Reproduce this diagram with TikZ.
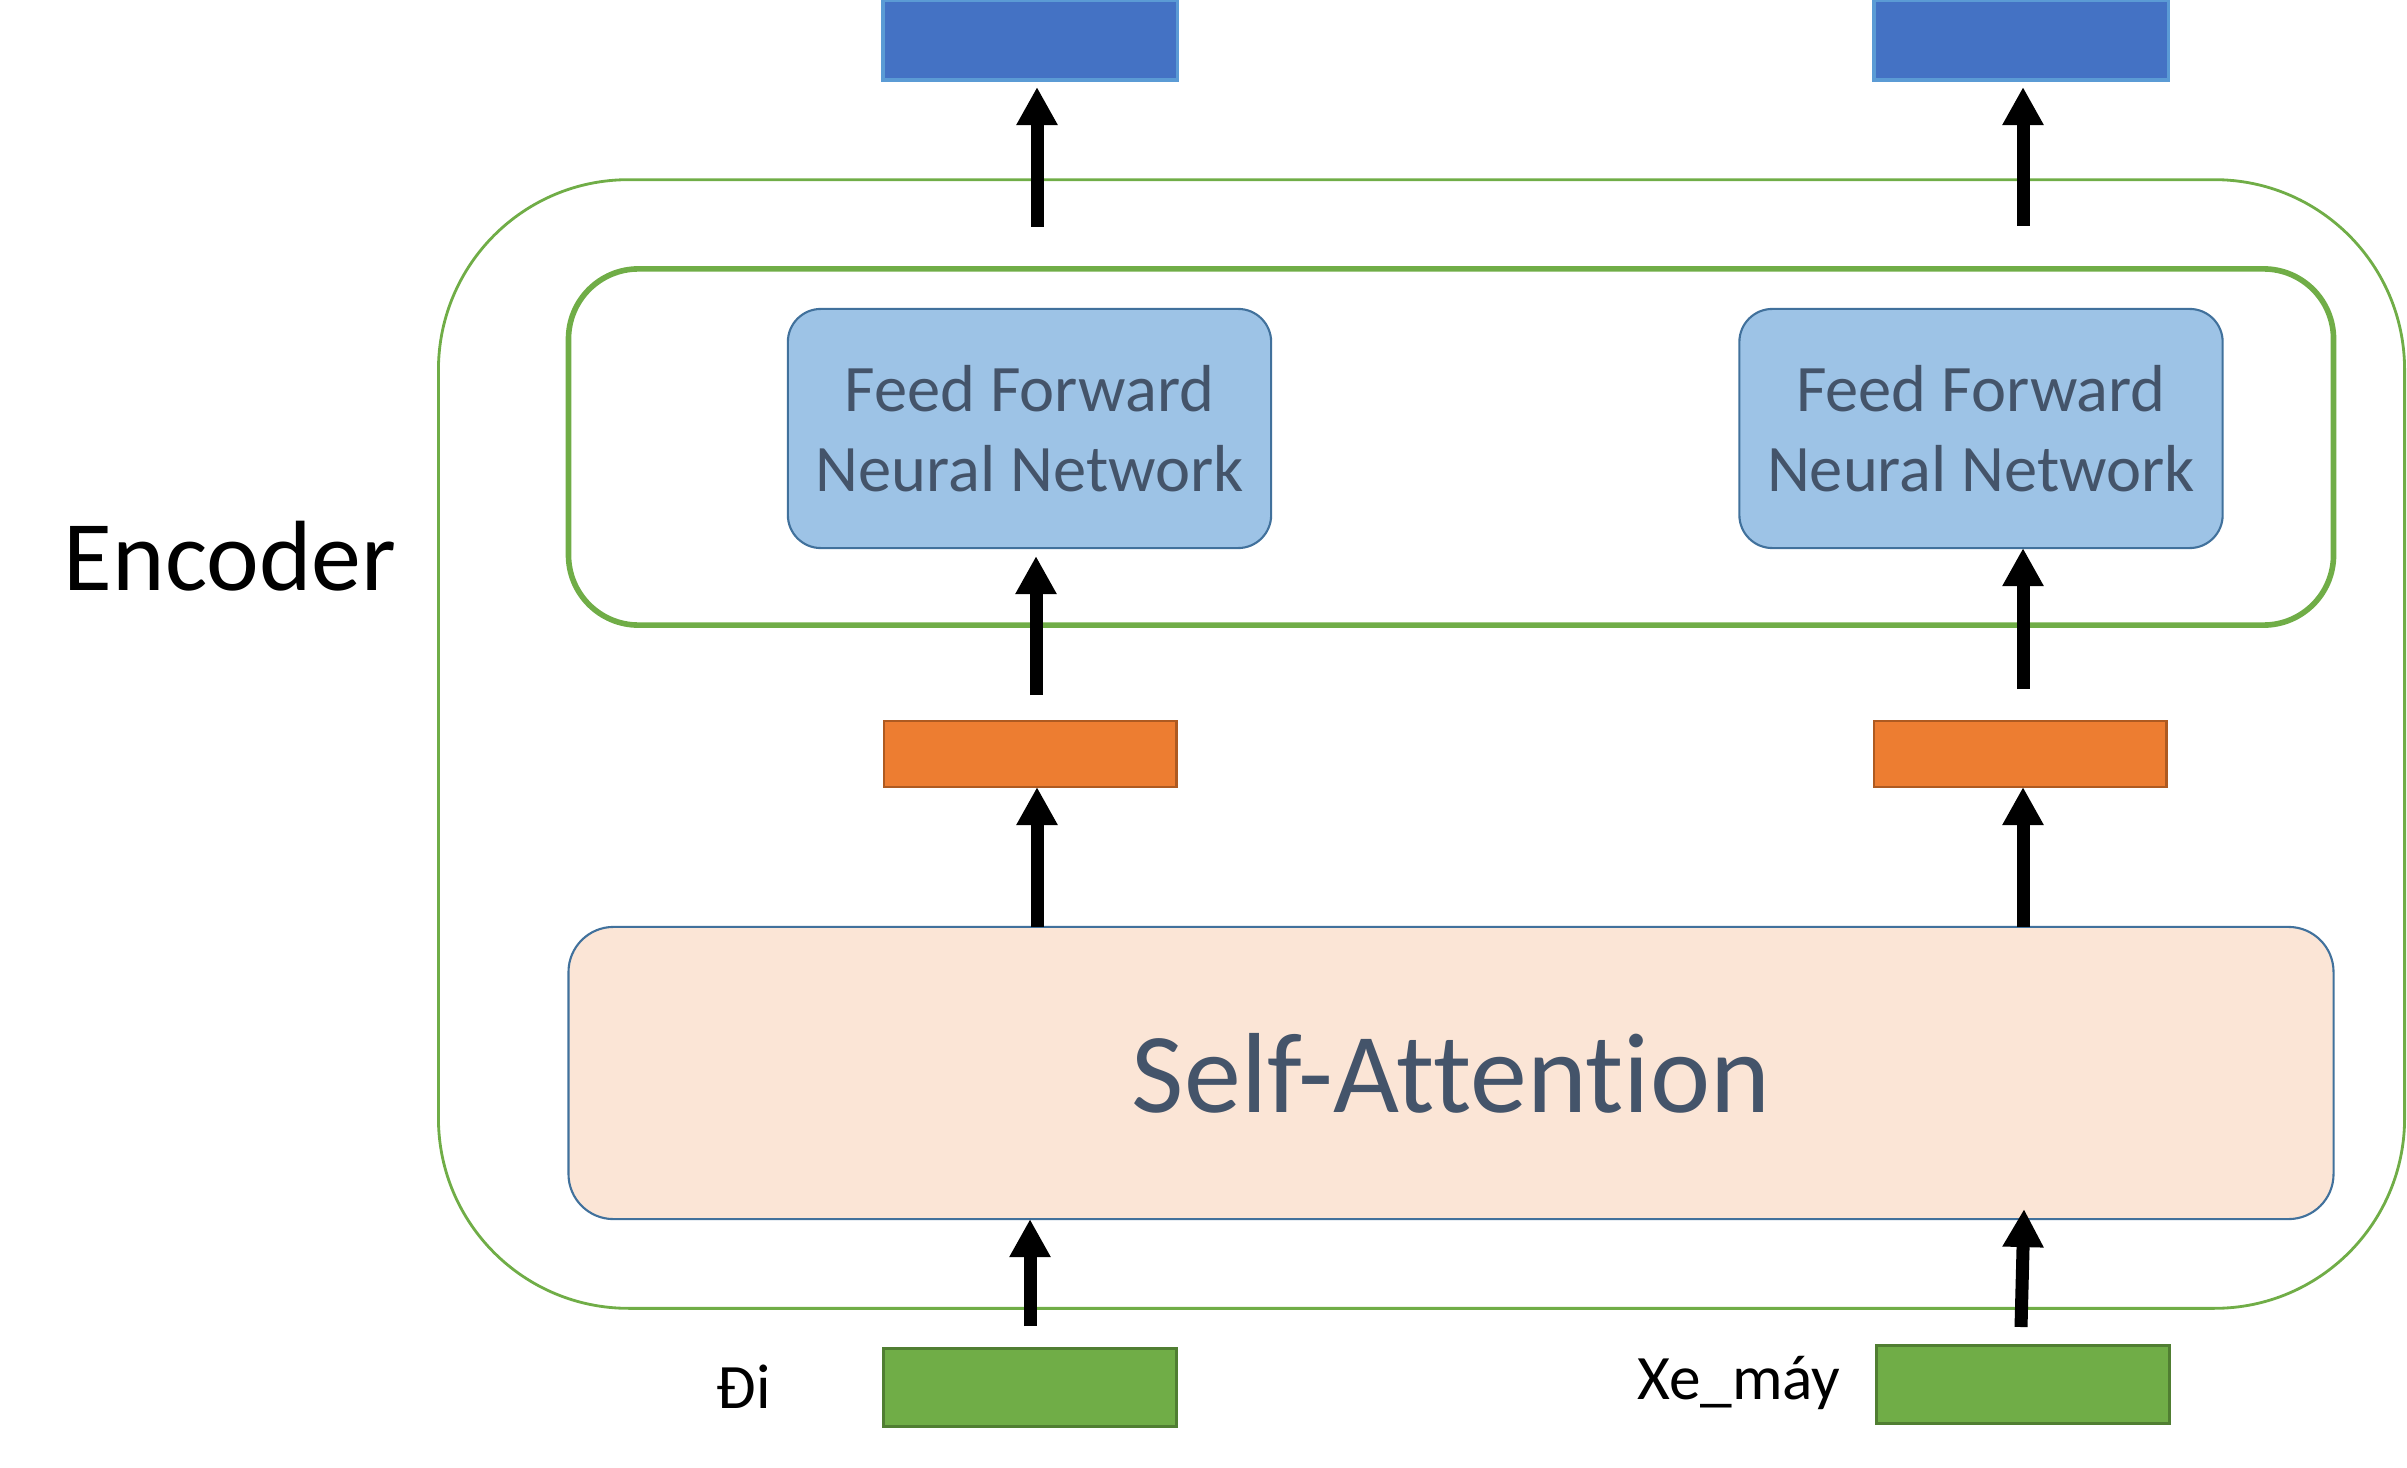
\documentclass[tikz,border=0pt]{standalone}
\usepackage{fontspec}
\setmainfont[Ligatures={NoCommon,NoContextual}]{Carlito}
\usetikzlibrary{arrows.meta,calc}
\definecolor{grn}{HTML}{70AD47}
\definecolor{grnB}{HTML}{507E32}
\definecolor{bluF}{HTML}{4472C4}
\definecolor{bluB}{HTML}{5B9BD5}
\definecolor{ffF}{HTML}{9DC3E6}
\definecolor{ffB}{HTML}{41719C}
\definecolor{saF}{HTML}{FBE5D6}
\definecolor{orF}{HTML}{ED7D31}
\definecolor{orB}{HTML}{AE5A21}
\definecolor{txt}{HTML}{44546A}
\tikzset{
  box/.style={rectangle,inner sep=0pt,outer sep=0pt},
  vecblue/.style={box,fill=bluF,draw=bluB,line width=0.9pt,minimum width=2.94cm,minimum height=0.8cm},
  vecorange/.style={box,fill=orF,draw=orB,line width=0.8pt,minimum width=2.92cm,minimum height=0.66cm},
  vecgreen/.style={box,fill=grn,draw=grnB,line width=0.8pt,minimum width=2.93cm,minimum height=0.78cm},
  ffbox/.style={box,fill=ffF,draw=ffB,line width=0.6pt,rounded corners=0.33cm,minimum width=4.83cm,minimum height=2.39cm,text=txt,align=center,font=\fontsize{18.9}{22.8}\selectfont},
  arr/.style={line width=3.7pt,-{Triangle[width=11pt,length=10.8pt]}},
  lbl/.style={inner sep=0pt,anchor=base,font=\fontsize{18}{21}\selectfont}
}
\begin{document}
\begin{tikzpicture}[x=0.01cm,y=-0.01cm]
\useasboundingbox (0,0) rectangle (2407,1467);
% outer encoder frame
\node[box,draw=grn,line width=0.8pt,rounded corners=1.9cm,minimum width=19.65cm,minimum height=11.28cm] (outer) at (1421.5,744) {};
% inner FFN frame
\node[box,draw=grn,line width=1.6pt,rounded corners=0.7cm,minimum width=17.64cm,minimum height=3.56cm] (inner) at (1451,447) {};
% self-attention
\node[box,fill=saF,draw=ffB,line width=0.6pt,rounded corners=0.45cm,minimum width=17.64cm,minimum height=2.92cm,text=txt,font=\fontsize{32.4}{38}\selectfont] (sa) at (1451,1073) {Self-Attention};
% FFN boxes
\node[ffbox] (ff1) at (1029.5,428.5) {Feed Forward\\Neural Network};
\node[ffbox] (ff2) at (1981,428.5) {Feed Forward\\Neural Network};
% vectors
\node[vecblue] (b1) at (1030,40) {};
\node[vecblue] (b2) at (2021,40) {};
\node[vecorange] (o1) at (1030,754) {};
\node[vecorange] (o2) at (2020,754) {};
\node[vecgreen] (g1) at (1030,1387.5) {};
\node[vecgreen] (g2) at (2023,1384.5) {};
% labels
\node[inner sep=0pt,anchor=base,font=\fontsize{28.4}{34}\selectfont] (enc) at (230,590) {Encoder};
\node[lbl] (di) at (744,1408) {Đi};
\node[lbl] (xe) at (1739,1399) {Xe\_máy};
% arrow tails
\coordinate (t1) at (1030,1326);
\coordinate (t2) at (2021,1327);
\coordinate (s1) at (1037,927);
\coordinate (s2) at (2023,927);
\coordinate (u1) at (1036,695);
\coordinate (u2) at (2023,689);
\coordinate (v1) at (1037,227);
\coordinate (v2) at (2023,226);
% arrows
\draw[arr] (t1) -- (t1 |- sa.south);
\draw[arr] (t2) -- ($(t2 |- sa.south)+(3,-10)$);
\draw[arr] (s1) -- (s1 |- o1.south);
\draw[arr] (s2) -- (s2 |- o2.south);
\draw[arr,shorten >=0.08cm] (u1) -- (u1 |- ff1.south);
\draw[arr] (u2) -- (u2 |- ff2.south);
\draw[arr,shorten >=0.07cm] (v1) -- (v1 |- b1.south);
\draw[arr,shorten >=0.07cm] (v2) -- (v2 |- b2.south);
\end{tikzpicture}
\end{document}
